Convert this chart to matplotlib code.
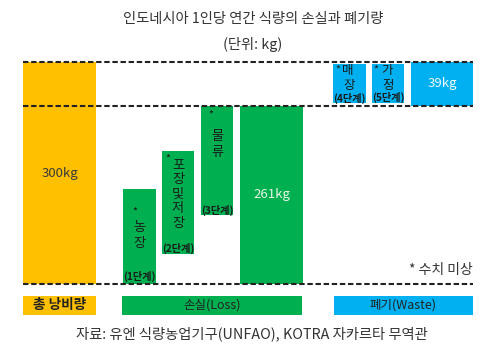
import matplotlib
matplotlib.use('Agg')
import matplotlib.pyplot as plt

plt.rcParams['font.family'] = ['Noto Sans CJK KR', 'DejaVu Sans']

# data (kg); stage extents are read off the picture, figures are "not known"
total_kg = 300
loss_kg = 261
waste_kg = 39
stage_names = ['농장', '포장및저장', '물류', '매장', '가정']
stage_steps = ['1단계', '2단계', '3단계', '4단계', '5단계']
stage_bottom = [0, 130, 164, 264, 264]
stage_top = [187, 221, 261, 298, 298]
group_labels = ['총 낭비량', '손실(Loss)', '폐기(Waste)']

ORANGE = '#FFC000'
GREEN = '#00B050'
BLUE = '#00B0F0'
TXT = '#333333'

W, H = 484, 355
fig = plt.figure(figsize=(W / 100, H / 100), dpi=100)


def px_axes(x0, y0, x1, y1):
    return fig.add_axes([x0 / W, 1 - y1 / H, (x1 - x0) / W, (y1 - y0) / H])


ax = px_axes(23, 62, 473, 284)
ax.set_xlim(0, 450)
ax.set_ylim(103.2, 300)
ax.axis('off')

# big bars
ax.bar(36.5, total_kg, width=73, color=ORANGE, zorder=1)
ax.bar(248.5, loss_kg, width=63, color=GREEN, zorder=1)
ax.bar(419, waste_kg, bottom=loss_kg, width=62, color=BLUE, zorder=1)
ax.text(36.5, (103.2 + total_kg) / 2, f'{total_kg}kg', ha='center', va='center',
        fontsize=9.5, color='#3a3a3a')
ax.text(248.5, (103.2 + loss_kg) / 2, f'{loss_kg}kg', ha='center', va='center',
        fontsize=9.5, color='#e6f5e6')
ax.text(419, loss_kg + waste_kg / 2, f'{waste_kg}kg', ha='center', va='center',
        fontsize=9.5, color='#f0faff')

# stage bars
stage_x = [116.5, 155, 194, 326.5, 365]
stage_w = [33, 32, 32, 33, 32]
stage_c = [GREEN, GREEN, GREEN, BLUE, BLUE]
heights = [t - b for t, b in zip(stage_top, stage_bottom)]
ax.bar(stage_x, heights, bottom=stage_bottom, width=stage_w, color=stage_c, zorder=1)

# label layout, in pixels: first char offset from bar top, char step, star offset
first_off = [(0, -38), (0, -14), (0, -31), (-2, -6), (-1, -6)]
step = [16, 14.5, 15.5, 15, 15]
star_off = [(-5, -22), (-10, -7), (-6, -9), (-12, -5), (-12, -5)]
step_off = [8, 5, 5, 4, 5]
fs = [9.5, 9.5, 9.5, 9, 9]
for i, name in enumerate(stage_names):
    x, top, bot = stage_x[i], stage_top[i], max(stage_bottom[i], 103.2)
    dx, dy = first_off[i]
    for k, ch in enumerate(name):
        ax.annotate(ch, (x, top), xytext=(dx if k == 0 else 0, dy - k * step[i]),
                    textcoords='offset pixels', ha='center', va='center',
                    fontsize=fs[i], color='#1a1a1a')
    ax.annotate('*', (x, top), xytext=star_off[i], textcoords='offset pixels',
                ha='center', va='center', fontsize=7.5, color='#1a1a1a')
    ax.annotate(f'({stage_steps[i]})', (x, bot), xytext=(0, step_off[i]),
                textcoords='offset pixels', ha='center', va='center',
                fontsize=7.3, fontweight='bold', color='#1a1a1a')

# dashed guide lines
for lvl in [103.2, loss_kg, total_kg]:
    ax.axhline(lvl, color='#222222', lw=1.5, ls=(0, (2.6, 1.3)), zorder=3, clip_on=False)

ax.text(450, 103.2 + 14 * 0.8865, '* 수치 미상', ha='right', va='center',
        fontsize=10, color=TXT)

# group strip
lax = px_axes(23, 296, 473, 315)
lax.set_xlim(0, 450)
lax.set_ylim(0, 1)
lax.axis('off')
gx = [36.5, 189, 380.5]
gw = [73, 180, 139]
gc = [ORANGE, GREEN, BLUE]
lax.bar(gx, [1, 1, 1], width=gw, color=gc)
for x, lab, wt, f in zip(gx, group_labels, ['bold', 'normal', 'normal'], [9.8, 9, 9]):
    lax.text(x, 0.5, lab, ha='center', va='center', fontsize=f, fontweight=wt,
             color='#222222')

fig.text(253 / W, 1 - 19 / H, '인도네시아 1인당 연간 식량의 손실과 폐기량', ha='center',
         va='center', fontsize=10.3, color=TXT)
fig.text(253 / W, 1 - 44 / H, '(단위: kg)', ha='center', va='center',
         fontsize=10.3, color=TXT)
fig.text(252 / W, 1 - 334 / H, '자료: 유엔 식량농업기구(UNFAO), KOTRA 자카르타 무역관',
         ha='center', va='center', fontsize=10.3, color=TXT)

fig.savefig('out.png', dpi=100)
